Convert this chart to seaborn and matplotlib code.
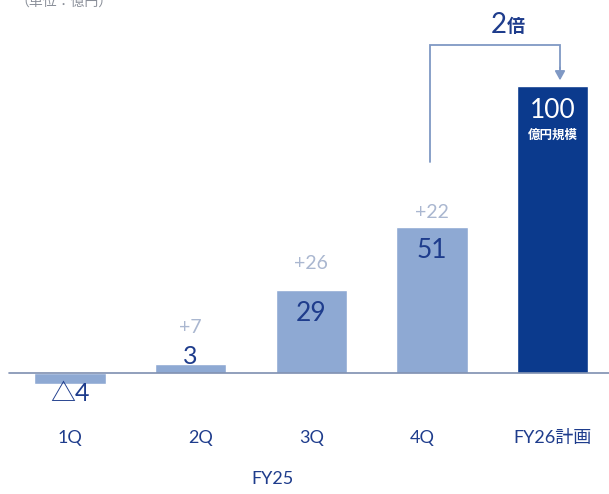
import matplotlib
matplotlib.use("Agg")
import matplotlib.pyplot as plt
import seaborn as sns
import pandas as pd

categories = ["1Q", "2Q", "3Q", "4Q", "FY26計画"]
values = [-4, 3, 29, 51, 100]
value_labels = ["△4", "3", "29", "51", "100"]
delta_labels = ["", "+7", "+26", "+22", ""]
bar_colors = ["#8EA9D3", "#8EA9D3", "#8EA9D3", "#8EA9D3", "#0B3A8D"]
group_label = "FY25"

sns.set_theme(style="white")
FAM = ["Lato", "Noto Sans CJK JP", "DejaVu Sans"]
plt.rcParams["font.family"] = FAM

NAVY = "#1E3C8C"
LIGHT = "#AAB7D0"
LINE = "#7F98C4"

df = pd.DataFrame({"cat": categories, "val": values})
fig = plt.figure(figsize=(6.09, 4.94), dpi=100)
ax = fig.add_axes([0, 0, 1, 1])
sns.barplot(data=df, x="cat", y="val", hue="cat", palette=bar_colors,
            width=0.59, legend=False, ax=ax, saturation=1)

ax.set_xlim(-0.58, 4.466)
ax.set_ylim(-42.2, 130.0)
ax.axis("off")
ax.axhline(0, xmin=0.015, xmax=1, color="#7E8FB0", lw=1.2)

delta_offsets = [0, 13.0, 9.3, 5.1, 0]
label_shift = [0, 0.08, 0, -0.08, 0]
for i, (v, lab, d) in enumerate(zip(values, value_labels, delta_labels)):
    if v < 0:
        ax.text(i, v - 3.0, lab, ha="center", va="center", fontsize=18, color=NAVY)
    elif v < 10:
        ax.text(i, v + 2.6, lab, ha="center", va="center", fontsize=18, color=NAVY)
    elif i == len(values) - 1:
        ax.text(i, v - 8.4, lab, ha="center", va="center", fontsize=19, color="white")
        ax.text(i, v - 17, "億円規模", ha="center", va="center", fontsize=9,
                color="white", fontweight="bold")
    else:
        ax.text(i, v - 8.3, lab, ha="center", va="center", fontsize=19, color=NAVY)
    if d:
        ax.text(i, v + delta_offsets[i], d, ha="center", va="center", fontsize=14,
                color=LIGHT)
    ax.text(i + label_shift[i], -22.6, categories[i], ha="center", va="center",
            fontsize=13, color=NAVY)

ax.text(1.68, -36.8, group_label, ha="center", va="center", fontsize=13, color=NAVY)

# bracket 4Q -> FY26
top_y = values[-1] + 14.3
ax.plot([3 - 0.02, 3 - 0.02, 4.06, 4.06], [values[3] + 22.5, top_y, top_y, values[-1] + 6],
        color=LINE, lw=1.3, solid_joinstyle="miter")
ax.annotate("", xy=(4.06, values[-1] + 2.0), xytext=(4.06, values[-1] + 6.5),
            arrowprops=dict(arrowstyle="-|>,head_width=0.25,head_length=0.45",
                            color=LINE, lw=1.3, shrinkA=0, shrinkB=0))
ax.text(3.62, top_y + 7.0, "2", ha="right", va="center", fontsize=20, color=NAVY)
ax.text(3.62, top_y + 6.6, "倍", ha="left", va="center", fontsize=13, color=NAVY,
        fontweight="bold")

fig.text(0.025, 0.998, "（単位：億円）", ha="left", va="center", fontsize=10, color="#8A8F99")

fig.savefig("out.png", dpi=100)
